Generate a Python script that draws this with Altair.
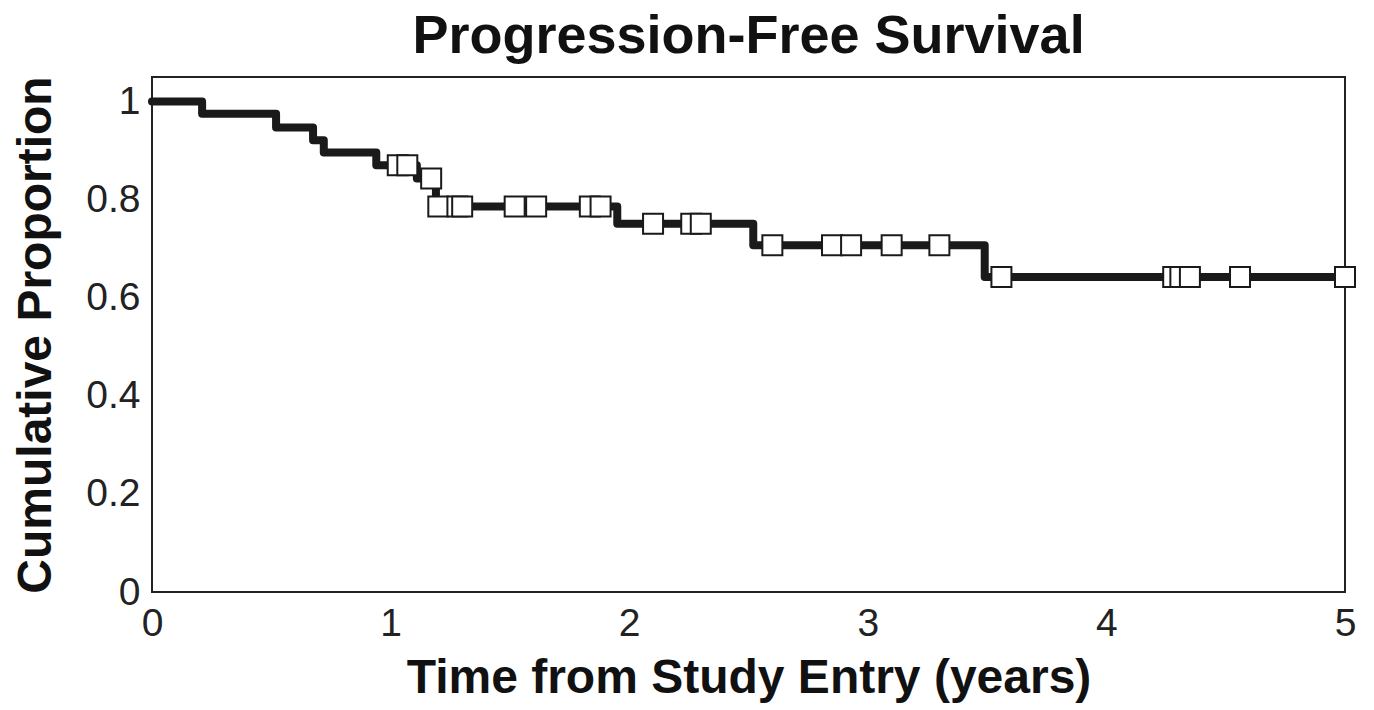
import altair as alt
import pandas as pd

# Kaplan-Meier step curve (time in years, proportion progression-free)
step_time = [0.0, 0.21, 0.52, 0.675, 0.72, 0.94, 1.11, 1.19, 1.95, 2.52, 3.49, 5.0]
step_prop = [1.0, 0.975, 0.947, 0.921, 0.896, 0.870, 0.843, 0.786, 0.751, 0.707, 0.642, 0.642]

# Censored observations (squares)
cens_time = [1.03, 1.07, 1.17, 1.20, 1.28, 1.30, 1.52, 1.61, 1.835, 1.88,
             2.10, 2.26, 2.30, 2.60, 2.85, 2.93, 3.10, 3.30,
             3.56, 4.28, 4.31, 4.35, 4.56, 5.0]
cens_prop = [0.870, 0.870, 0.843, 0.786, 0.786, 0.786, 0.786, 0.786, 0.786, 0.786,
             0.751, 0.751, 0.751, 0.707, 0.707, 0.707, 0.707, 0.707,
             0.642, 0.642, 0.642, 0.642, 0.642, 0.642]

x_ticks = [0, 1, 2, 3, 4, 5]
y_ticks = [0, 0.2, 0.4, 0.6, 0.8, 1]

FONT = "Liberation Sans"

steps = pd.DataFrame({"t": step_time, "p": step_prop})
cens = pd.DataFrame({"t": cens_time, "p": cens_prop})

x_enc = alt.X("t:Q", scale=alt.Scale(domain=[0, 5], nice=False),
              axis=alt.Axis(values=x_ticks, format="~g", title="Time from Study Entry (years)",
                            grid=False, domain=False, ticks=False, labelPadding=12,
                            labelFlush=False,
                            labelFontSize=39, labelFont=FONT, labelColor="#222",
                            titleFontSize=48, titleFont=FONT, titleFontWeight="bold",
                            titleColor="#111", titleY=100, titleBaseline="alphabetic"))
y_enc = alt.Y("p:Q", scale=alt.Scale(domain=[0, 1.05], nice=False),
              axis=alt.Axis(values=y_ticks, format="~g", title="Cumulative Proportion",
                            grid=False, domain=False, ticks=False, labelPadding=12,
                            labelFlush=False,
                            labelFontSize=39, labelFont=FONT, labelColor="#222",
                            titleFontSize=48, titleFont=FONT, titleFontWeight="bold",
                            titleColor="#111", titleX=-102, titleBaseline="alphabetic"))

line = alt.Chart(steps).mark_line(interpolate="step-after", color="#1a1a1a",
                                  strokeWidth=8, strokeCap="round",
                                  strokeJoin="round").encode(x=x_enc, y=y_enc)

pts = alt.Chart(cens).mark_point(shape="square", filled=True, fill="white",
                                 stroke="#1a1a1a", strokeWidth=2, size=400,
                                 opacity=1).encode(x="t:Q", y="p:Q")

chart = (line + pts).properties(
    width=1193, height=515,
    title=alt.TitleParams("Progression-Free Survival", fontSize=54, font=FONT,
                          fontWeight="bold", color="#111", offset=12),
    autosize=alt.AutoSizeParams(type="none"),
    padding={"left": 144, "top": 69, "right": 21, "bottom": 117},
).configure_view(stroke="#222", strokeWidth=2)

chart.save("out.html", embed_options={"renderer": "svg", "actions": False})
